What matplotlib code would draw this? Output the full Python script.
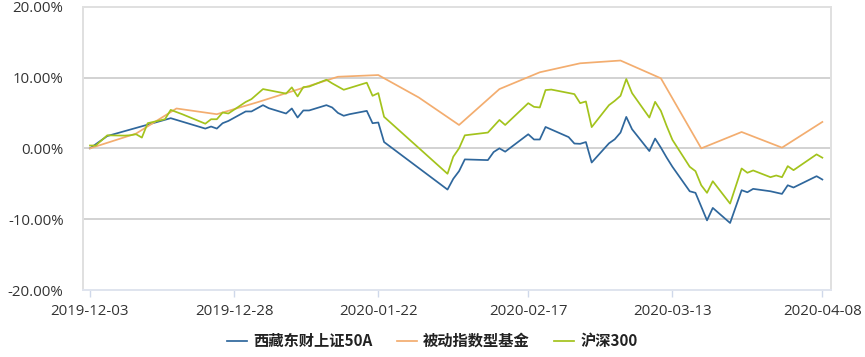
import matplotlib
matplotlib.use("Agg")
import matplotlib.pyplot as plt
import pandas as pd

plt.rcParams['font.family'] = ['Noto Sans CJK SC', 'DejaVu Sans']

# ---- data (cumulative return, %) ----
blue_name = "西藏东财上证50A"
blue_dates = ["2019-12-03", "2019-12-06", "2019-12-17", "2019-12-23", "2019-12-24", "2019-12-25",
              "2019-12-26", "2019-12-27", "2019-12-30", "2019-12-31", "2020-01-02", "2020-01-03",
              "2020-01-06", "2020-01-07", "2020-01-08", "2020-01-09", "2020-01-10", "2020-01-13",
              "2020-01-14", "2020-01-15", "2020-01-16", "2020-01-17", "2020-01-20", "2020-01-21",
              "2020-01-22", "2020-01-23", "2020-02-03", "2020-02-04", "2020-02-05", "2020-02-06",
              "2020-02-10", "2020-02-11", "2020-02-12", "2020-02-13", "2020-02-17", "2020-02-18",
              "2020-02-19", "2020-02-20", "2020-02-24", "2020-02-25", "2020-02-26", "2020-02-27",
              "2020-02-28", "2020-03-02", "2020-03-03", "2020-03-04", "2020-03-05", "2020-03-06",
              "2020-03-09", "2020-03-10", "2020-03-11", "2020-03-12", "2020-03-13", "2020-03-16",
              "2020-03-17", "2020-03-19", "2020-03-20", "2020-03-23", "2020-03-25", "2020-03-26",
              "2020-03-27", "2020-03-30", "2020-04-01", "2020-04-02", "2020-04-03", "2020-04-07",
              "2020-04-08"]
blue_values = [0.00, 1.74, 4.26, 2.79, 3.08, 2.79,
               3.55, 3.87, 5.21, 5.21, 6.10, 5.67,
               4.92, 5.63, 4.35, 5.35, 5.35, 6.10,
               5.77, 5.00, 4.60, 4.82, 5.29, 3.55,
               3.65, 0.89, -5.82, -4.30, -3.22, -1.56,
               -1.66, -0.52, 0.00, -0.47, 1.99, 1.25,
               1.25, 3.02, 1.59, 0.68, 0.64, 0.89,
               -2.00, 0.71, 1.28, 2.23, 4.44, 2.70,
               -0.38, 1.38, 0.10, -1.30, -2.60, -6.06,
               -6.28, -10.17, -8.41, -10.54, -5.91, -6.20,
               -5.72, -6.06, -6.43, -5.21, -5.53, -3.93,
               -4.40]

orange_name = "被动指数型基金"
orange_dates = ["2019-12-03", "2019-12-11", "2019-12-18", "2019-12-25", "2020-01-01", "2020-01-08",
                "2020-01-15", "2020-01-22", "2020-01-29", "2020-02-05", "2020-02-12", "2020-02-19",
                "2020-02-26", "2020-03-04", "2020-03-11", "2020-03-18", "2020-03-25", "2020-04-01",
                "2020-04-08"]
orange_values = [0.00, 2.09, 5.63, 4.82, 6.50, 8.30,
                 10.11, 10.35, 7.19, 3.30, 8.37, 10.74,
                 12.01, 12.40, 9.89, 0.00, 2.31, 0.10,
                 3.73]

green_name = "沪深300"
green_dates = ["2019-12-03", "2019-12-04", "2019-12-06", "2019-12-09", "2019-12-10", "2019-12-11",
               "2019-12-12", "2019-12-13", "2019-12-16", "2019-12-17", "2019-12-19", "2019-12-23",
               "2019-12-24", "2019-12-25", "2019-12-26", "2019-12-27", "2019-12-30", "2019-12-31",
               "2020-01-02", "2020-01-06", "2020-01-07", "2020-01-08", "2020-01-09", "2020-01-10",
               "2020-01-13", "2020-01-14", "2020-01-16", "2020-01-20", "2020-01-21", "2020-01-22",
               "2020-01-23", "2020-02-03", "2020-02-04", "2020-02-05", "2020-02-06", "2020-02-10",
               "2020-02-12", "2020-02-13", "2020-02-17", "2020-02-18", "2020-02-19", "2020-02-20",
               "2020-02-21", "2020-02-25", "2020-02-26", "2020-02-27", "2020-02-28", "2020-03-02",
               "2020-03-03", "2020-03-04", "2020-03-05", "2020-03-06", "2020-03-09", "2020-03-10",
               "2020-03-11", "2020-03-12", "2020-03-13", "2020-03-16", "2020-03-17", "2020-03-18",
               "2020-03-19", "2020-03-20", "2020-03-23", "2020-03-25", "2020-03-26", "2020-03-27",
               "2020-03-30", "2020-03-31", "2020-04-01", "2020-04-02", "2020-04-03", "2020-04-07",
               "2020-04-08"]
green_values = [0.40, 0.40, 1.84, 1.80, 1.85, 1.99,
                1.52, 3.55, 4.11, 5.43, 4.82, 3.48,
                4.11, 4.11, 5.06, 4.92, 6.55, 6.95,
                8.37, 7.73, 8.61, 7.33, 8.65, 8.72,
                9.69, 9.18, 8.27, 9.27, 7.42, 7.80,
                4.45, -3.59, -1.18, 0.00, 1.84, 2.23,
                4.01, 3.30, 6.38, 5.86, 5.77, 8.23,
                8.30, 7.66, 6.38, 6.62, 3.00, 6.10,
                6.71, 7.42, 9.79, 7.80, 4.35, 6.57,
                5.29, 3.16, 1.20, -2.60, -3.22, -5.21,
                -6.28, -4.64, -7.80, -2.84, -3.45, -3.12,
                -4.07, -3.83, -4.07, -2.51, -3.08, -0.85,
                -1.32]

x_tick_labels = ["2019-12-03", "2019-12-28", "2020-01-22", "2020-02-17", "2020-03-13", "2020-04-08"]
y_ticks = [-20, -10, 0, 10, 20]

colors = {"blue": "#2f679c", "orange": "#f3ad6f", "green": "#a3c31c"}
tick_font = ['Open Sans', 'Noto Sans CJK SC', 'DejaVu Sans']

# ---- figure ----
fig = plt.figure(figsize=(8.65, 3.57), dpi=100)
ax = fig.add_axes([83 / 865, 1 - 290 / 357, (831 - 83) / 865, (290 - 6.7) / 357])

bd = pd.to_datetime(blue_dates)
od = pd.to_datetime(orange_dates)
gd = pd.to_datetime(green_dates)

ax.plot(bd, blue_values, color=colors["blue"], lw=1.25, label=blue_name, zorder=3)
ax.plot(od, orange_values, color=colors["orange"], lw=1.25, label=orange_name, zorder=3)
ax.plot(gd, green_values, color=colors["green"], lw=1.25, label=green_name, zorder=3)

start = pd.Timestamp(x_tick_labels[0])
end = pd.Timestamp(x_tick_labels[-1])
ax.set_xlim(start - pd.Timedelta(days=1.21), end + pd.Timedelta(days=1.5))
ax.set_ylim(-20, 20)

ax.set_xticks(pd.to_datetime(x_tick_labels))
ax.set_xticklabels(x_tick_labels, family=tick_font, fontsize=10.8, color="#333333")
ax.set_yticks(y_ticks)
ax.set_yticklabels([f"{v:.2f}%" for v in y_ticks], family=tick_font, fontsize=10.8, color="#333333")

for v in [-10, 0, 10]:
    ax.axhline(v, color="#d2d2d2", lw=1.4, zorder=1)

for s in ["top", "right", "left"]:
    ax.spines[s].set_color("#e0e0e0")
    ax.spines[s].set_linewidth(1.4)
ax.spines["bottom"].set_color("#dfe4ee")
ax.spines["bottom"].set_linewidth(1.4)

ax.tick_params(axis="y", length=0, pad=14)
ax.tick_params(axis="x", length=5, width=1, color="#cfd8ea", pad=5)

leg = fig.legend(loc="center", bbox_to_anchor=(0.5, 1 - 341 / 357), ncol=3, frameon=False,
                 handlelength=1.3, handletextpad=0.4, columnspacing=1.6,
                 prop={"weight": "bold", "size": 11})
for t in leg.get_texts():
    t.set_color("#222222")

fig.savefig("out.png", dpi=100)
